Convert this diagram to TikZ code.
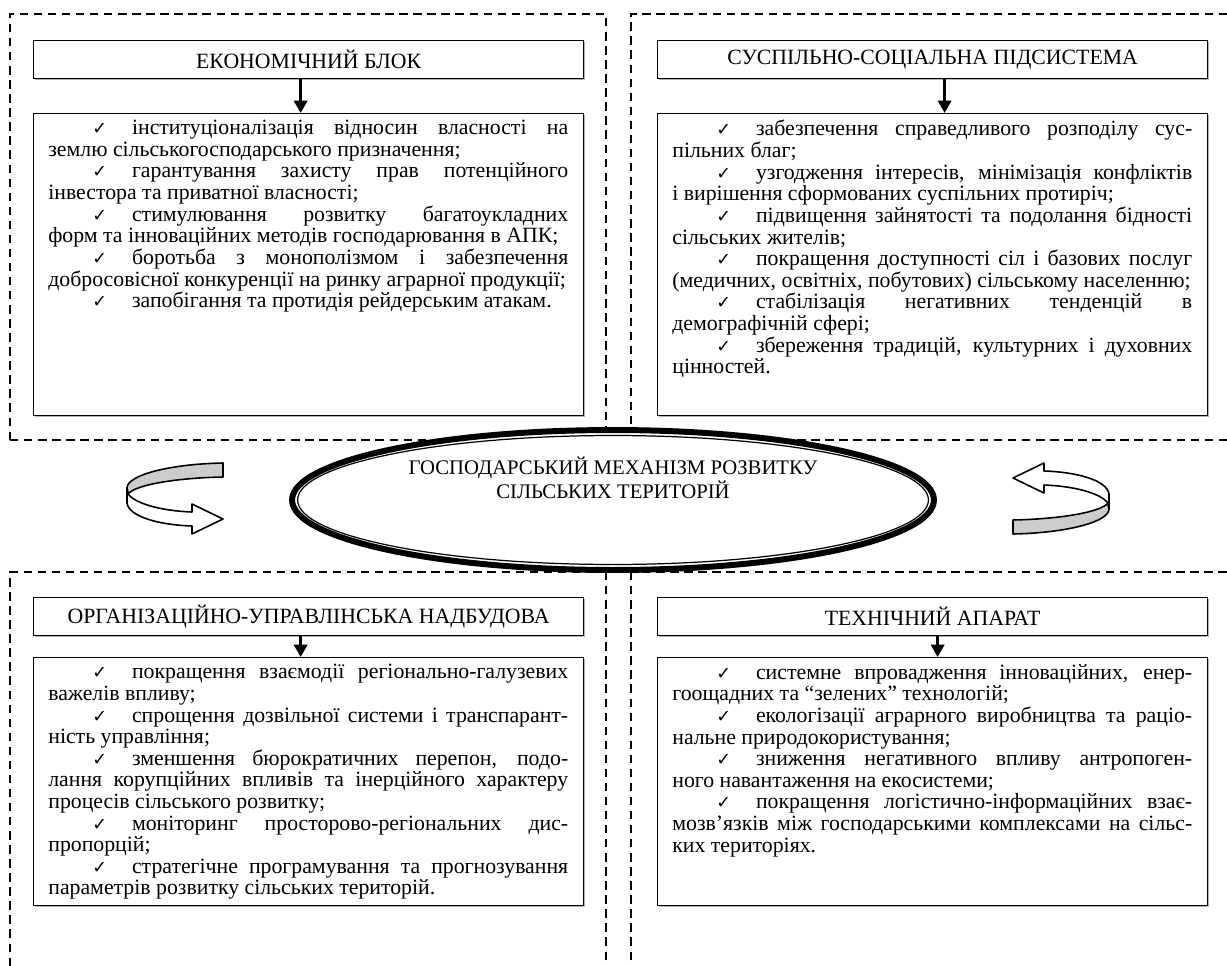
\documentclass[tikz,border=0pt]{standalone}
\usepackage{fontspec}
\setmainfont{Liberation Serif}
\newfontfamily\chkfont{DejaVu Sans}
\usetikzlibrary{shapes.geometric,arrows.meta,shadows}

% check mark at the start of an item
\newcommand{\chk}{\hskip0.88cm{\chkfont\fontsize{10}{10}\selectfont ✓}\hskip0.5cm\relax}
% justified line / ragged last line
\newcommand{\jl}[1]{\hbox to \hsize{#1}}
\newcommand{\rl}[1]{\hbox{#1}}

\tikzset{
  region/.style={draw=black, line width=1.5pt, dash pattern=on 4.8pt off 3.2pt},
  titlebox/.style={draw=black, line width=0.8pt, fill=white, minimum width=11cm, minimum height=0.76cm,
    inner sep=0pt, anchor=north west, drop shadow={shadow xshift=0.6pt, shadow yshift=-0.6pt, opacity=0.6}},
  listbox/.style={draw=black, line width=0.8pt, fill=white, minimum width=11cm, inner sep=0pt,
    anchor=north west, drop shadow={shadow xshift=0.6pt, shadow yshift=-0.6pt, opacity=0.6}},
  listtext/.style={anchor=north west, inner sep=0pt},
  downarrow/.style={line width=1.6pt, -{Triangle[length=7pt,width=7.5pt]}},
  ribbon/.style={draw=black, line width=0.9pt, line join=round},
  turn/.pic={
    \path[ribbon, fill=gray!40] (48,-34) .. controls (-5,-33) and (-48,-22) .. (-48,-9)
      -- (-47,-3) .. controls (-40,-12) and (0,-19) .. (48,-20) -- cycle;
    \path[ribbon, fill=white] (-48,-9) -- (-48,6) .. controls (-46,20) and (-15,28) .. (17,29)
      -- (17,37) -- (48,22) -- (17,7) -- (17,15) .. controls (-10,14) and (-38,8) .. (-47,-3) -- cycle;
  }
}

\begin{document}
\begin{tikzpicture}[x=0.02cm, y=-0.02cm, font=\fontsize{12.4}{12.3}\selectfont]
\useasboundingbox (0,0) rectangle (1227,966);

% dashed frames
\draw[region] (10,440) -- (10,14) -- (606,14) -- (606,440);
\draw[region] (1227,14) -- (631,14) -- (631,440);
\draw[region] (10,440) -- (1227,440);
\draw[region] (10,966) -- (10,572) -- (1227,572);
\draw[region] (606,572) -- (606,966);
\draw[region] (631,572) -- (631,966);

% upper left
\node[titlebox] (econ) at (33,40) {ЕКОНОМІЧНИЙ БЛОК};
\node[listbox, minimum height=6.04cm] (econlist) at (33,113) {};
\node[listtext] (econtxt) at ([shift={(15,7)}]econlist.north west) {\vbox{\hsize=10.4cm
  \jl{\chk інституціоналізація відносин власності на}
  \rl{землю сільськогосподарського призначення;}
  \jl{\chk гарантування захисту прав потенційного}
  \rl{інвестора та приватної власності;}
  \jl{\chk стимулювання розвитку багатоукладних}
  \rl{форм та інноваційних методів господарювання в АПК;}
  \jl{\chk боротьба з монополізмом і забезпечення}
  \rl{добросовісної конкуренції на ринку аграрної продукції;}
  \rl{\chk запобігання та протидія рейдерським атакам.}}};
\draw[downarrow] ([xshift=-0.16cm]econ.south) -- ([xshift=-0.16cm]econlist.north);

% upper right
\node[titlebox] (soc) at (657,40) {СУСПІЛЬНО-СОЦІАЛЬНА ПІДСИСТЕМА};
\node[listbox, minimum height=6.04cm] (soclist) at (657,113) {};
\node[listtext] (soctxt) at ([shift={(15,7)}]soclist.north west) {\vbox{\hsize=10.4cm
  \jl{\chk забезпечення справедливого розподілу сус-}
  \rl{пільних благ;}
  \jl{\chk узгодження інтересів, мінімізація конфліктів}
  \rl{і вирішення сформованих суспільних протиріч;}
  \jl{\chk підвищення зайнятості та подолання бідності}
  \rl{сільських жителів;}
  \jl{\chk покращення доступності сіл і базових послуг}
  \rl{(медичних, освітніх, побутових) сільському населенню;}
  \jl{\chk стабілізація негативних тенденцій в}
  \rl{демографічній сфері;}
  \jl{\chk збереження традицій, культурних і духовних}
  \rl{цінностей.}}};
\draw[downarrow] ([xshift=0.24cm]soc.south) -- ([xshift=0.24cm]soclist.north);

% lower left
\node[titlebox] (org) at (33,597) {ОРГАНІЗАЦІЙНО-УПРАВЛІНСЬКА НАДБУДОВА};
\node[listbox, minimum height=4.96cm] (orglist) at (33,657) {};
\node[listtext] (orgtxt) at ([shift={(15,7)}]orglist.north west) {\vbox{\hsize=10.4cm
  \jl{\chk покращення взаємодії регіонально-галузевих}
  \rl{важелів впливу;}
  \jl{\chk спрощення дозвільної системи і транспарант-}
  \rl{ність управління;}
  \jl{\chk зменшення бюрократичних перепон, подо-}
  \jl{лання корупційних впливів та інерційного характеру}
  \rl{процесів сільського розвитку;}
  \jl{\chk моніторинг просторово-регіональних дис-}
  \rl{пропорцій;}
  \jl{\chk стратегічне програмування та прогнозування}
  \rl{параметрів розвитку сільських територій.}}};
\draw[downarrow] ([xshift=-0.16cm]org.south) -- ([xshift=-0.16cm]orglist.north);

% lower right
\node[titlebox] (tech) at (657,597) {ТЕХНІЧНИЙ АПАРАТ};
\node[listbox, minimum height=4.96cm] (techlist) at (657,657) {};
\node[listtext] (techtxt) at ([shift={(15,7)}]techlist.north west) {\vbox{\hsize=10.4cm
  \jl{\chk системне впровадження інноваційних, енер-}
  \rl{гоощадних та “зелених” технологій;}
  \jl{\chk екологізації аграрного виробництва та раціо-}
  \rl{нальне природокористування;}
  \jl{\chk зниження негативного впливу антропоген-}
  \rl{ного навантаження на екосистеми;}
  \jl{\chk покращення логістично-інформаційних взає-}
  \jl{мозв’язків між господарськими комплексами на сільс-}
  \rl{ких територіях.}}};
\draw[downarrow] ([xshift=0.1cm]tech.south) -- ([xshift=0.1cm]techlist.north);

% centre
\node[ellipse, draw=black, line width=3.4pt, fill=white, minimum width=12.84cm, minimum height=2.8cm,
  inner sep=0pt] (mech) at (613,500) {};
\node[ellipse, draw=black, line width=0.7pt, minimum width=12.62cm, minimum height=2.58cm,
  inner sep=0pt] (mechin) at (mech.center) {};
\node[align=center, font=\fontsize{11.8}{13.6}\selectfont] (mechtxt) at ([yshift=0.44cm]mech.center)
  {ГОСПОДАРСЬКИЙ МЕХАНІЗМ РОЗВИТКУ\\СІЛЬСЬКИХ ТЕРИТОРІЙ};

\pic (lturn) at (175,497) {turn};
\pic[rotate=180] (rturn) at (1061,500) {turn};
\end{tikzpicture}
\end{document}
